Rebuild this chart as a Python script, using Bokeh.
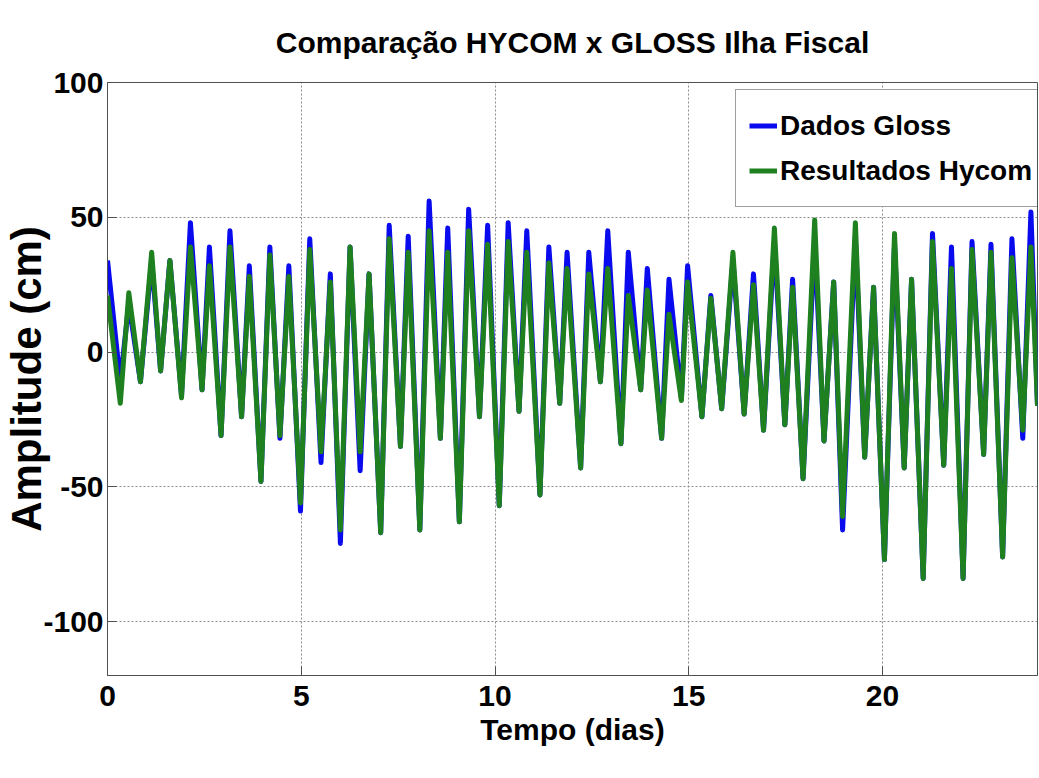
from bokeh.plotting import figure
from bokeh.models import Range1d, FixedTicker, Legend, LegendItem, ColumnDataSource, NumeralTickFormatter
from bokeh.embed import file_html
from bokeh.resources import INLINE

# Times (days) of successive high / low waters
tempo = [0.0, 0.33, 0.55, 0.85, 1.14, 1.37, 1.61, 1.91, 2.14, 2.44,
         2.63, 2.93, 3.16, 3.46, 3.66, 3.96, 4.19, 4.45, 4.68, 4.98,
         5.22, 5.51, 5.75, 6.01, 6.26, 6.52, 6.75, 7.05, 7.27, 7.56,
         7.76, 8.06, 8.30, 8.59, 8.78, 9.08, 9.32, 9.60, 9.81, 10.11,
         10.34, 10.62, 10.82, 11.16, 11.39, 11.67, 11.86, 12.21, 12.42, 12.72,
         12.91, 13.25, 13.44, 13.76, 13.93, 14.30, 14.49, 14.81, 14.97, 15.34,
         15.57, 15.85, 16.14, 16.43, 16.67, 16.93, 17.21, 17.48, 17.68, 17.95,
         18.25, 18.49, 18.74, 18.97, 19.30, 19.54, 19.77, 20.05, 20.31, 20.56,
         20.75, 21.05, 21.29, 21.58, 21.78, 22.08, 22.31, 22.61, 22.80, 23.10,
         23.34, 23.62, 23.83, 24.0]

# Dados Gloss (cm)
gloss = [34, -11, 18, -11, 34, -7, 34, -16, 48, -14,
         39, -31, 45, -24, 32, -48, 39, -32, 32, -59,
         42, -41, 29, -71, 39, -44, 29, -67, 47, -35,
         43, -66, 56, -32, 46, -63, 53, -24, 47, -57,
         48, -22, 45, -53, 39, -19, 37, -43, 37, -11,
         45, -34, 37, -14, 31, -32, 27, -17, 32, -24,
         21, -21, 34, -23, 29, -29, 41, -27, 27, -47,
         41, -33, 26, -66, 42, -39, 24, -77, 40, -43,
         27, -84, 44, -42, 39, -84, 41, -38, 40, -76,
         42, -32, 52, -20]

# Resultados Hycom (cm)
hycom = [21, -19, 22, -11, 37, -7, 34, -17, 39, -14,
         32, -31, 39, -24, 28, -48, 36, -31, 28, -56,
         38, -37, 26, -66, 39, -37, 29, -67, 42, -35,
         37, -66, 45, -32, 37, -63, 45, -24, 40, -57,
         41, -22, 37, -53, 33, -19, 31, -43, 29, -11,
         31, -34, 21, -14, 23, -32, 14, -18, 26, -24,
         20, -21, 37, -23, 25, -29, 46, -27, 24, -47,
         49, -33, 26, -61, 48, -39, 24, -77, 44, -43,
         27, -84, 41, -42, 31, -84, 38, -38, 37, -76,
         35, -29, 39, -20]

x_ticks = [0, 5, 10, 15, 20]
y_ticks = [-100, -50, 0, 50, 100]

FONT = "Liberation Sans"

src = ColumnDataSource(dict(t=tempo, gloss=gloss, hycom=hycom))

p = figure(width=1039, height=778, output_backend="svg", toolbar_location=None,
           x_range=Range1d(0, 24), y_range=Range1d(-120, 100),
           min_border_left=104, min_border_right=2, min_border_top=82, min_border_bottom=103,
           background_fill_color="white", border_fill_color="white")

p.title.text = "Comparação HYCOM x GLOSS Ilha Fiscal"
p.title.align = "center"
p.title.text_font = FONT
p.title.text_font_size = "30px"
p.title.text_font_style = "bold"
p.title.text_color = "black"
p.title.standoff = 47

r1 = p.line("t", "gloss", source=src, line_color="#0a0aee", line_width=5, line_join="round")
r2 = p.line("t", "hycom", source=src, line_color="#1f801f", line_width=5, line_join="round")

for ax in (p.xaxis[0], p.yaxis[0]):
    ax.major_label_text_font = FONT
    ax.major_label_text_font_size = "30px"
    ax.major_label_text_font_style = "bold"
    ax.major_label_text_color = "black"
    ax.major_tick_in = 9
    ax.major_tick_out = 0
    ax.minor_tick_line_color = None
    ax.axis_line_color = "#505050"
    ax.major_tick_line_color = "#505050"
    ax.formatter = NumeralTickFormatter(format="0")

p.xaxis[0].ticker = FixedTicker(ticks=x_ticks)
p.yaxis[0].ticker = FixedTicker(ticks=y_ticks)
p.xaxis[0].major_label_standoff = 10
p.yaxis[0].major_label_standoff = 4

p.xaxis[0].axis_label = "Tempo (dias)"
p.xaxis[0].axis_label_text_font = FONT
p.xaxis[0].axis_label_text_font_size = "30px"
p.xaxis[0].axis_label_text_font_style = "bold"
p.xaxis[0].axis_label_text_color = "black"
p.xaxis[0].axis_label_standoff = 4

p.yaxis[0].axis_label = "Amplitude (cm)"
p.yaxis[0].axis_label_text_font = FONT
p.yaxis[0].axis_label_text_font_size = "42px"
p.yaxis[0].axis_label_text_font_style = "bold"
p.yaxis[0].axis_label_text_color = "black"
p.yaxis[0].axis_label_standoff = -10

p.xgrid.ticker = FixedTicker(ticks=x_ticks)
p.ygrid.ticker = FixedTicker(ticks=y_ticks)
for g in (p.xgrid[0], p.ygrid[0]):
    g.grid_line_color = "#8a8a8a"
    g.grid_line_dash = "2 2"
    g.grid_line_width = 1

p.outline_line_color = "#505050"

legend = Legend(items=[LegendItem(label="Dados Gloss", renderers=[r1]),
                       LegendItem(label="Resultados Hycom", renderers=[r2])],
                location=(628, 468))
legend.label_text_font = FONT
legend.label_text_font_size = "28px"
legend.label_text_font_style = "bold"
legend.label_text_color = "black"
legend.label_standoff = 3
legend.glyph_width = 28
legend.glyph_height = 45
legend.label_height = 45
legend.spacing = 0
legend.padding = 13
legend.margin = 0
legend.border_line_color = "#404040"
legend.border_line_width = 1.5
legend.background_fill_color = "white"
legend.background_fill_alpha = 1
p.add_layout(legend)

open("out.html", "w").write(file_html(p, INLINE))
